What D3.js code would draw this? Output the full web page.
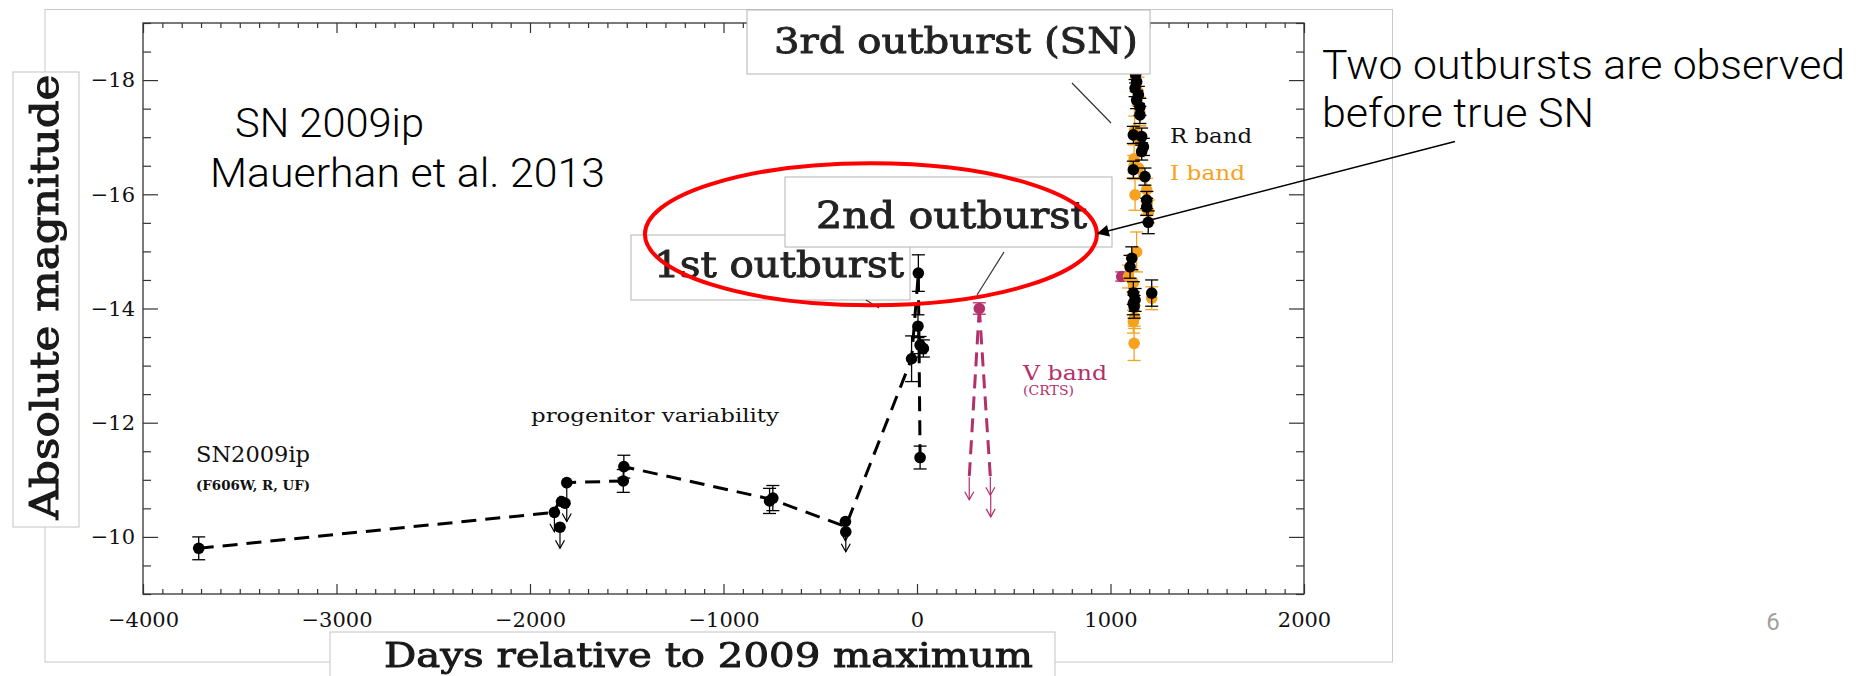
<!DOCTYPE html>
<html>
<head>
<meta charset="utf-8">
<script src="https://cdn.jsdelivr.net/npm/d3@7"></script>
<style>
  html, body { margin: 0; padding: 0; background: #ffffff; }
  svg { display: block; }
</style>
</head>
<body>
<svg id="chart" width="1870" height="676"></svg>
<script>
// ---- Light-curve data: [days relative to 2009 maximum, absolute magnitude, error] ----
const xTicks = [-4000, -3000, -2000, -1000, 0, 1000, 2000];
const yTicks = [-18, -16, -14, -12, -10];

// Progenitor detections (F606W, R, unfiltered)
const progenitorPts = [
  [-3712, -9.80, 0.20],
  [-1837, -10.62, 0],
  [-1819, -10.59, 0],
  [-1518, -10.98, 0.20],
  [-1515, -11.23, 0.20],
  [-762, -10.63, 0.22],
  [-745, -10.68, 0.22],
  [-28, -13.12, 0.40],
  [7, -14.62, 0.32],
  [5, -13.69, 0.20],
  [16, -13.36, 0.15],
  [33, -13.30, 0.15],
  [16, -11.39, 0.20]
];
// Progenitor upper limits: [day, limit mag, arrow end mag]
const progenitorLimits = [
  [-1874, -10.43, -10.09],
  [-1845, -10.17, -9.80],
  [-1810, -10.95, -10.27],
  [-370, -10.27, -9.93],
  [-368, -10.09, -9.74]
];
// Dashed curve through the progenitor history
const progenitorPath = [
  [-3712, -9.80], [-1874, -10.43], [-1810, -10.95], [-1518, -10.98],
  [-1515, -11.23], [-754, -10.66], [-369, -10.18], [-28, -13.12],
  [7, -14.62], [16, -11.39]
];

// CRTS V band
const vBandPts = [
  [322, -14.00, 0.10],
  [1058, -14.56, 0.08]
];
const vBandLimits = [
  [270, -11.05, -10.65],
  [379, -11.05, -10.73],
  [381, -10.73, -10.35]
];
const vBandPaths = [
  [[322, -14.00], [270, -11.05]],
  [[322, -14.00], [379, -11.05]]
];

// 2012 event, R band
const rBandPts = [
  [1130, -18.10, 0.15], [1135, -17.97, 0.15], [1127, -17.86, 0.15],
  [1144, -17.74, 0.15], [1135, -17.65, 0.15], [1152, -17.53, 0.15],
  [1152, -17.39, 0.15], [1118, -17.04, 0.15], [1161, -17.01, 0.15],
  [1170, -16.83, 0.15], [1161, -16.75, 0.15], [1118, -16.43, 0.15],
  [1178, -16.31, 0.15], [1187, -15.90, 0.15], [1187, -15.78, 0.15],
  [1195, -15.51, 0.20], [1110, -14.88, 0.20], [1101, -14.73, 0.20],
  [1118, -14.27, 0.20], [1127, -14.15, 0.20], [1118, -14.09, 0.20],
  [1122, -14.03, 0.20], [1213, -14.27, 0.23]
];
// 2012 event, I band
const iBandPts = [
  [1130, -18.05, 0.25], [1142, -17.80, 0.25], [1150, -17.45, 0.25],
  [1125, -17.12, 0.25], [1152, -16.95, 0.25], [1122, -16.62, 0.25],
  [1120, -16.48, 0.20], [1145, -16.46, 0.20], [1127, -15.99, 0.27],
  [1187, -16.08, 0.20], [1190, -15.85, 0.20], [1196, -15.70, 0.20],
  [1135, -14.99, 0.35], [1093, -14.56, 0.20], [1118, -14.45, 0.20],
  [1213, -14.18, 0.20], [1125, -13.85, 0.20], [1118, -13.77, 0.20],
  [1122, -13.39, 0.30]
];

// Highlight ellipse around the two precursor outbursts: [centre day, centre mag, half-width days, half-height mag]
const outburstRing = [-238, -15.30, 1168, 1.243];

// ---- Colours ----
const BLACK = "#000000";
const ORANGE = "#f7a21e";
const CRIMSON = "#b3306b";
const SERIF = "'DejaVu Serif', serif";
const SANS = "Roboto, 'Noto Sans', sans-serif";

const svg = d3.select("#chart");

const x = d3.scaleLinear().domain([-4000, 2000]).range([143, 1304]);
const y = d3.scaleLinear().domain([-9, -19]).range([594, 23]);

// soft focus filter for the scanned-looking captions
const defs = svg.append("defs");
defs.append("filter").attr("id", "soft")
  .append("feGaussianBlur").attr("stdDeviation", 0.6);
defs.append("marker").attr("id", "head")
  .attr("viewBox", "0 0 10 10").attr("refX", 9).attr("refY", 5)
  .attr("markerWidth", 16).attr("markerHeight", 12)
  .attr("markerUnits", "userSpaceOnUse").attr("orient", "auto")
  .append("path").attr("d", "M0,0 L10,5 L0,10 z").attr("fill", "#000");

// outer slide frame
svg.append("rect").attr("x", 45).attr("y", 9.5).attr("width", 1347.5).attr("height", 652.5)
  .attr("fill", "none").attr("stroke", "#c9c9c9").attr("stroke-width", 1);

// ---- Axis title boxes ----
svg.append("rect").attr("x", 13).attr("y", 72).attr("width", 66).attr("height", 455)
  .attr("fill", "#fff").attr("stroke", "#c4c4c4");
svg.append("text")
  .attr("transform", "translate(58,297) rotate(-90)")
  .attr("text-anchor", "middle")
  .attr("font-family", SERIF).attr("font-size", 40)
  .attr("textLength", 445).attr("lengthAdjust", "spacingAndGlyphs")
  .attr("fill", "#1a1a1a").attr("stroke", "#1a1a1a").attr("stroke-width", 1.1)
  .attr("filter", "url(#soft)")
  .text("Absolute magnitude");

svg.append("rect").attr("x", 330).attr("y", 632).attr("width", 725).attr("height", 60)
  .attr("fill", "#fff").attr("stroke", "#c4c4c4");
svg.append("text")
  .attr("x", 384).attr("y", 667)
  .attr("font-family", SERIF).attr("font-size", 33)
  .attr("textLength", 649).attr("lengthAdjust", "spacingAndGlyphs")
  .attr("fill", "#1a1a1a").attr("stroke", "#1a1a1a").attr("stroke-width", 0.9)
  .attr("filter", "url(#soft)")
  .text("Days relative to 2009 maximum");

// ---- Axes: inward ticks on all four sides ----
const fmt = d3.format("d");
function styleAxis(g) {
  g.select(".domain").remove();
  g.selectAll(".tick line").attr("stroke", "#333").attr("stroke-width", 1.2);
  g.selectAll(".tick text").attr("font-family", SERIF).attr("font-size", 21).attr("fill", "#111");
}
const minorX = d3.range(-4000, 2001, 100).filter(v => v % 1000 !== 0);
const minorY = d3.range(-19, -8.99, 0.5).filter(v => Math.abs(v % 2) > 0.01);

svg.append("g").attr("transform", `translate(0,${y(-9)})`)
  .call(d3.axisBottom(x).tickValues(xTicks).tickSize(-10).tickSizeOuter(0).tickPadding(18).tickFormat(fmt))
  .call(styleAxis);
svg.append("g").attr("transform", `translate(0,${y(-9)})`)
  .call(d3.axisBottom(x).tickValues(minorX).tickSize(-5).tickSizeOuter(0).tickFormat(""))
  .call(styleAxis);
svg.append("g").attr("transform", `translate(0,${y(-19)})`)
  .call(d3.axisTop(x).tickValues(xTicks).tickSize(-10).tickSizeOuter(0).tickFormat(""))
  .call(styleAxis);
svg.append("g").attr("transform", `translate(0,${y(-19)})`)
  .call(d3.axisTop(x).tickValues(minorX).tickSize(-5).tickSizeOuter(0).tickFormat(""))
  .call(styleAxis);

svg.append("g").attr("transform", `translate(${x(-4000)},0)`)
  .call(d3.axisLeft(y).tickValues(yTicks).tickSize(-15).tickSizeOuter(0).tickPadding(8).tickFormat(fmt))
  .call(styleAxis);
svg.append("g").attr("transform", `translate(${x(-4000)},0)`)
  .call(d3.axisLeft(y).tickValues(minorY).tickSize(-8).tickSizeOuter(0).tickFormat(""))
  .call(styleAxis);
svg.append("g").attr("transform", `translate(${x(2000)},0)`)
  .call(d3.axisRight(y).tickValues(yTicks).tickSize(-15).tickSizeOuter(0).tickFormat(""))
  .call(styleAxis);
svg.append("g").attr("transform", `translate(${x(2000)},0)`)
  .call(d3.axisRight(y).tickValues(minorY).tickSize(-8).tickSizeOuter(0).tickFormat(""))
  .call(styleAxis);

svg.append("rect")
  .attr("x", x(-4000)).attr("y", y(-19))
  .attr("width", x(2000) - x(-4000)).attr("height", y(-9) - y(-19))
  .attr("fill", "none").attr("stroke", "#333").attr("stroke-width", 1.3);

// ---- Data layers ----
const plot = svg.append("g");
const line = d3.line().x(d => x(d[0])).y(d => y(d[1]));

function drawLimits(data, color) {
  const g = plot.append("g").attr("stroke", color).attr("fill", "none").attr("stroke-width", 1.2);
  g.selectAll("line").data(data).join("line")
    .attr("x1", d => x(d[0])).attr("x2", d => x(d[0]))
    .attr("y1", d => y(d[1])).attr("y2", d => y(d[2]));
  g.selectAll("path").data(data).join("path")
    .attr("d", d => {
      const px = x(d[0]), py = y(d[2]);
      return `M${px - 4.5},${py - 8} L${px},${py} L${px + 4.5},${py - 8}`;
    });
}
function drawErrors(data, color) {
  const g = plot.append("g").attr("stroke", color).attr("stroke-width", 1.3);
  const d2 = data.filter(d => d[2] > 0);
  g.selectAll("line.bar").data(d2).join("line").attr("class", "bar")
    .attr("x1", d => x(d[0])).attr("x2", d => x(d[0]))
    .attr("y1", d => y(d[1] - d[2])).attr("y2", d => y(d[1] + d[2]));
  g.selectAll("line.capT").data(d2).join("line").attr("class", "capT")
    .attr("x1", d => x(d[0]) - 6.5).attr("x2", d => x(d[0]) + 6.5)
    .attr("y1", d => y(d[1] - d[2])).attr("y2", d => y(d[1] - d[2]));
  g.selectAll("line.capB").data(d2).join("line").attr("class", "capB")
    .attr("x1", d => x(d[0]) - 6.5).attr("x2", d => x(d[0]) + 6.5)
    .attr("y1", d => y(d[1] + d[2])).attr("y2", d => y(d[1] + d[2]));
}
function drawDots(data, color, r) {
  plot.append("g").selectAll("circle").data(data).join("circle")
    .attr("cx", d => x(d[0])).attr("cy", d => y(d[1])).attr("r", r).attr("fill", color);
}

// progenitor dashed history
plot.append("path").datum(progenitorPath).attr("d", line)
  .attr("fill", "none").attr("stroke", BLACK).attr("stroke-width", 3)
  .attr("stroke-dasharray", "15,9");
drawLimits(progenitorLimits, BLACK);
drawErrors(progenitorPts, BLACK);
drawDots(progenitorPts, BLACK, 5.8);
drawDots(progenitorLimits, BLACK, 5.8);

// CRTS V band
vBandPaths.forEach(p => {
  plot.append("path").datum(p).attr("d", line)
    .attr("fill", "none").attr("stroke", CRIMSON).attr("stroke-width", 3)
    .attr("stroke-dasharray", "14,8");
});
drawLimits(vBandLimits, CRIMSON);
drawErrors(vBandPts, CRIMSON);
drawDots(vBandPts, CRIMSON, 5.8);

// 2012 SN: I band under R band
drawErrors(iBandPts, ORANGE);
drawDots(iBandPts, ORANGE, 5.8);
drawErrors(rBandPts, BLACK);
drawDots(rBandPts, BLACK, 5.8);

// ---- In-plot labels ----
function label(tx, ty, str, opts) {
  const t = svg.append("text").attr("x", tx).attr("y", ty).text(str)
    .attr("font-family", opts.family || SERIF)
    .attr("font-size", opts.size)
    .attr("fill", opts.color || "#111");
  if (opts.weight) t.attr("font-weight", opts.weight);
  if (opts.len) t.attr("textLength", opts.len).attr("lengthAdjust", "spacingAndGlyphs");
  if (opts.stroke) t.attr("stroke", opts.color || "#111").attr("stroke-width", opts.stroke);
  if (opts.filter) t.attr("filter", opts.filter);
  return t;
}
label(196, 462, "SN2009ip", { size: 22, len: 114 });
label(196, 490, "(F606W, R, UF)", { size: 12, weight: "bold", len: 114 });
label(531, 422, "progenitor variability", { size: 19, len: 248 });
label(1170, 143, "R band", { size: 20, len: 82 });
label(1170, 180, "I band", { size: 20, len: 75, color: ORANGE });
label(1023, 380, "V band", { size: 20, len: 84, color: CRIMSON });
label(1023, 395, "(CRTS)", { size: 12, len: 51, color: CRIMSON });

// ---- Outburst callouts ----
function callout(bx, by, bw, bh, tx, ty, str, size, len) {
  svg.append("rect").attr("x", bx).attr("y", by).attr("width", bw).attr("height", bh)
    .attr("fill", "#fff").attr("stroke", "#b4b4b4").attr("stroke-width", 1);
  label(tx, ty, str, { size: size, len: len, color: "#222", stroke: 0.9, filter: "url(#soft)" });
}
callout(631, 235, 279, 65, 654, 277, "1st outburst", 35, 250);
callout(785, 177, 327, 70, 816, 228, "2nd outburst", 37, 271);
callout(747, 10, 403, 64, 774, 53, "3rd outburst (SN)", 36, 364);

// leader lines from the callouts
const leaders = [[866, 300, 879, 308], [1004, 252, 977, 295], [1072, 83, 1111, 123]];
svg.append("g").selectAll("line").data(leaders).join("line")
  .attr("x1", d => d[0]).attr("y1", d => d[1]).attr("x2", d => d[2]).attr("y2", d => d[3])
  .attr("stroke", "#333").attr("stroke-width", 1.2);

// red ring around the two precursor outbursts
svg.append("ellipse")
  .attr("cx", x(outburstRing[0])).attr("cy", y(outburstRing[1]))
  .attr("rx", x(outburstRing[0] + outburstRing[2]) - x(outburstRing[0]))
  .attr("ry", y(outburstRing[1]) - y(outburstRing[1] - outburstRing[3]))
  .attr("fill", "none").attr("stroke", "#ff0000").attr("stroke-width", 4);

// ---- Slide text ----
label(235, 137, "SN 2009ip", { family: SANS, size: 40, weight: 300, len: 189, color: "#000" });
label(210, 187, "Mauerhan et al. 2013", { family: SANS, size: 40, weight: 300, len: 395, color: "#000" });
label(1322, 79, "Two outbursts are observed", { family: SANS, size: 40, weight: 300, len: 523, color: "#000" });
label(1322, 127, "before true SN", { family: SANS, size: 40, weight: 300, len: 272, color: "#000" });
svg.append("line").attr("x1", 1455).attr("y1", 141.5).attr("x2", 1098).attr("y2", 233.5)
  .attr("stroke", "#000").attr("stroke-width", 1.5).attr("marker-end", "url(#head)");
label(1773, 630, "6", { family: SANS, size: 24, color: "#a0a0a0" }).attr("text-anchor", "middle");
</script>
</body>
</html>
